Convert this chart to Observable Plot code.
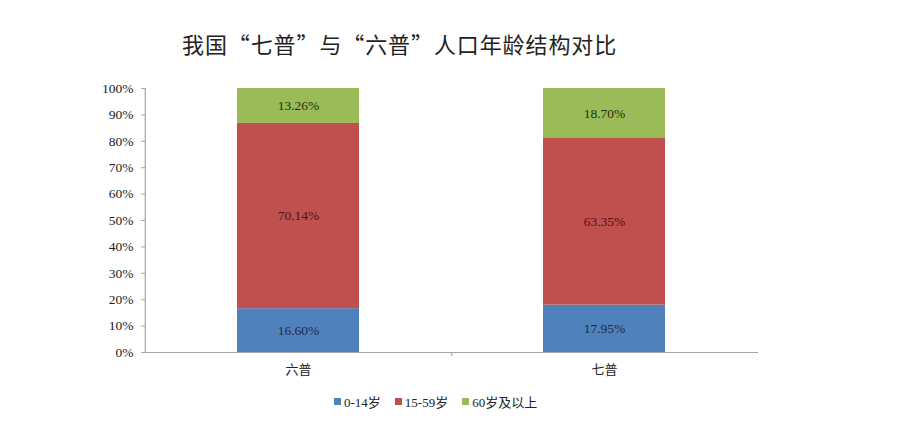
<!DOCTYPE html>
<html>
<head>
<meta charset="utf-8">
<script src="https://cdn.jsdelivr.net/npm/d3@7"></script>
<script src="https://cdn.jsdelivr.net/npm/@observablehq/plot@0.6"></script>
<style>
  html, body { margin: 0; padding: 0; background: #fff; }
  #wrap { position: relative; width: 903px; height: 423px; overflow: hidden; }
  #title { position: absolute; z-index: 2; left: 182px; top: 27px; font-family: "Noto Sans CJK SC", sans-serif; font-size: 22px; color: #222; white-space: nowrap; letter-spacing: 0.9px; }
  #chart { position: absolute; z-index: 1; left: 0; top: 0; }
  #legend { position: absolute; z-index: 2; left: 334px; top: 392px; display: flex; gap: 14px; font-family: "Liberation Serif", "Noto Sans CJK SC", serif; font-size: 13px; color: #222; white-space: nowrap; }
  #legend .item { display: flex; align-items: center; gap: 3px; }
  #legend .sw { width: 7px; height: 7px; display: inline-block; }
</style>
</head>
<body>
<div id="wrap">
  <div id="title">我国“七普”与“六普”人口年龄结构对比</div>
  <div id="chart"></div>
  <div id="legend"></div>
</div>
<script>
const categories = ["六普", "七普"];
const groups = ["0-14岁", "15-59岁", "60岁及以上"];
const values_0_14 = [16.60, 17.95];
const values_15_59 = [70.14, 63.35];
const values_60 = [13.26, 18.70];
const yTicks = [0, 10, 20, 30, 40, 50, 60, 70, 80, 90, 100];
const fillColors = ["#4F81BD", "#C0504D", "#9BBB59"];
const labelColors = ["#1b2a48", "#4a1414", "#1f2e0b"];

const series = [values_0_14, values_15_59, values_60];
const data = [];
groups.forEach((g, gi) => {
  categories.forEach((c, ci) => {
    data.push({cat: c, group: g, value: series[gi][ci]});
  });
});

const W = 903, H = 385;
const mL = 145, mR = 145, mT = 88, mB = 33;
const step = (W - mL - mR) / categories.length;

const chart = Plot.plot({
  width: W,
  height: H,
  marginLeft: mL,
  marginRight: mR,
  marginTop: mT,
  marginBottom: mB,
  style: { background: "transparent", overflow: "visible" },
  x: { domain: categories, paddingInner: 0.6, paddingOuter: 0.3, label: null },
  y: { domain: [0, 100], label: null },
  color: { domain: groups, range: fillColors },
  marks: [
    Plot.barY(data, { x: "cat", y: "value", fill: "group", order: null }),
    Plot.text(data, Plot.stackY({
      x: "cat", y: "value", z: "group",
      text: d => d.value.toFixed(2) + "%",
      fill: d => labelColors[groups.indexOf(d.group)],
      fontFamily: "Liberation Serif, serif",
      fontSize: 13.5
    })),
    Plot.ruleY([0], { stroke: "#a6a6a6", strokeWidth: 1.2 }),
    Plot.ruleX([categories[0]], { dx: -step / 2, y1: 0, y2: 100, stroke: "#a6a6a6", strokeWidth: 1.2 }),
    Plot.ruleX([categories[0]], { dx: step / 2, y1: 0, y2: 0, insetBottom: -4, stroke: "#a6a6a6", strokeWidth: 1.2 }),
    Plot.axisY({
      ticks: yTicks,
      tickFormat: d => d + "%",
      tickSize: 4,
      tickPadding: 8,
      stroke: "#a6a6a6",
      fill: "#222",
      fontFamily: "Liberation Serif, serif",
      fontSize: 13.5
    }),
    Plot.axisX({
      tickSize: 0,
      tickPadding: 12,
      fill: "#222",
      fontFamily: "Noto Sans CJK SC, sans-serif",
      fontSize: 13
    })
  ]
});
document.getElementById("chart").appendChild(chart);

const legend = document.getElementById("legend");
groups.forEach((g, i) => {
  const item = document.createElement("div");
  item.className = "item";
  const sw = document.createElement("span");
  sw.className = "sw";
  sw.style.background = fillColors[i];
  const t = document.createElement("span");
  t.textContent = g;
  item.appendChild(sw);
  item.appendChild(t);
  legend.appendChild(item);
});
</script>
</body>
</html>
